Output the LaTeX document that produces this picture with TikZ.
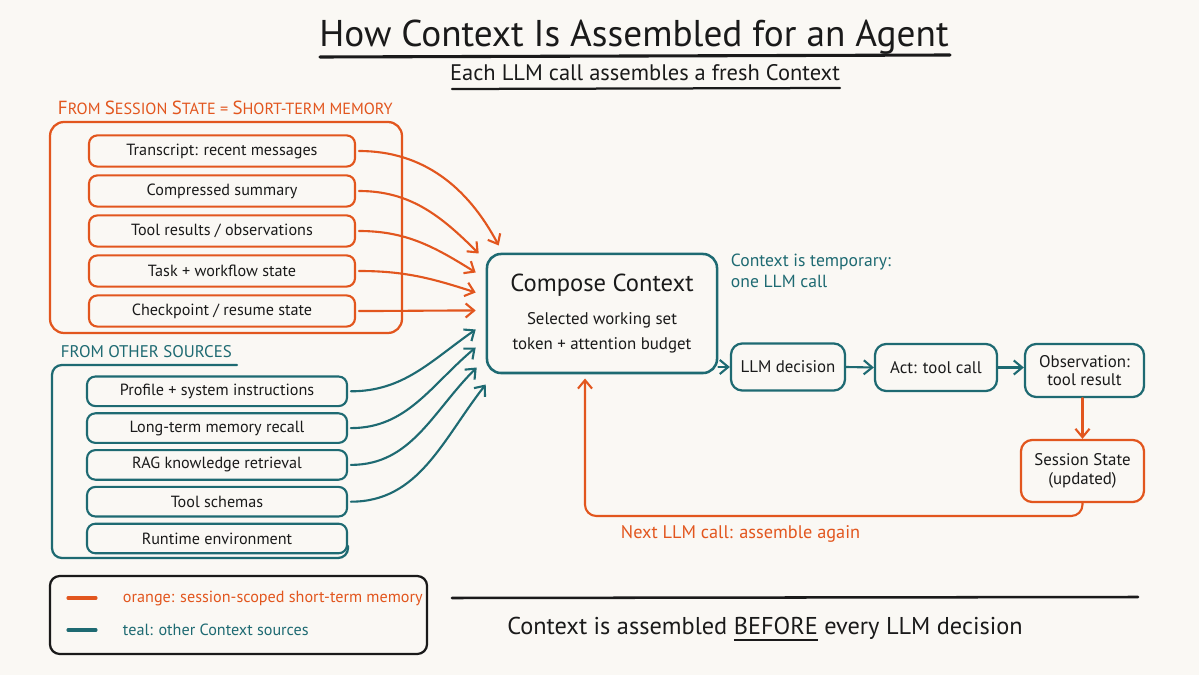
\documentclass[tikz,border=0pt]{standalone}
\usepackage{fontspec}
\setmainfont{PT Sans}
\usetikzlibrary{arrows.meta,calc,positioning}

\definecolor{paper}{HTML}{FAF8F4}
\definecolor{ctxorange}{HTML}{E2561E}
\definecolor{ctxteal}{HTML}{1E6A72}
\definecolor{ink}{HTML}{1A1A1A}

\newcommand{\fsz}[1]{\fontsize{#1}{1.2\dimexpr #1pt\relax}\selectfont}
\newcommand{\capinit}[1]{{\fsz{13.5}#1}}
\newcommand{\thickul}[1]{\setbox0\hbox{#1}\rlap{\raisebox{-4.5pt}{\rule{\wd0}{1.6pt}}}\box0{}}

\tikzset{
  srcbox/.style={draw, rounded corners=6pt, line width=1.5pt, text=ink,
    minimum height=0.78cm, font=\fsz{11.5}},
  sessbox/.style={srcbox, draw=ctxorange, minimum width=6.65cm},
  otherbox/.style={srcbox, draw=ctxteal, minimum width=6.5cm, minimum height=0.74cm},
  stepbox/.style={draw=ctxteal, rounded corners=8pt, line width=1.6pt, text=ink,
    align=center, font=\fsz{12}, minimum height=1.175cm},
  feed/.style={-{Straight Barb[length=6pt,width=10pt,line width=1.5pt]}, line width=1.5pt},
  legtext/.style={right=19pt of #1, inner sep=0pt, font=\fsz{11.5}},
}

\begin{document}
\begin{tikzpicture}[x=0.025cm, y=-0.025cm, line cap=round, line join=round]
  \fill[paper] (0,0) rectangle (1199,675);
  \useasboundingbox (0,0) rectangle (1199,675);

  % title
  \node[font=\fsz{26.5}, text=ink] (title) at (634,37) {How Context Is Assembled for an Agent};
  \draw[ink, line width=2.2pt] (320,57) -- (950,55);
  \node[font=\fsz{16}, text=ink] (subtitle) at (645,73) {Each LLM call assembles a fresh Context};
  \draw[ink, line width=1.6pt] (452,89) -- (840,88);

  % session state group
  \node[anchor=west, text=ctxorange, font=\fsz{11.5}] (sesshead) at (53,108)
    {\capinit{F}ROM \capinit{S}ESSION \capinit{S}TATE = \capinit{S}HORT-TERM MEMORY};
  \draw[ctxorange, line width=1.6pt, rounded corners=10pt] (50,122) rectangle (402,333);
  \foreach \i/\t in {1/{Transcript: recent messages}, 2/{Compressed summary},
      3/{Tool results / observations}, 4/{Task + workflow state}, 5/{Checkpoint / resume state}}
    \node[sessbox] (s\i) at (222,111+40*\i) {\t};

  % other sources group
  \node[anchor=west, text=ctxteal, font=\fsz{12}] (otherhead) at (56,352) {FROM OTHER SOURCES};
  \draw[ctxteal, line width=1.6pt, rounded corners=7pt]
    (237,365) -- (52,365) -- (52,558) -- (348,558) -- (348,546);
  \foreach \i/\t in {1/{Profile + system instructions}, 2/{Long-term memory recall},
      3/{RAG knowledge retrieval}, 4/{Tool schemas}, 5/{Runtime environment}}
    \node[otherbox] (o\i) at (217,354.5+36.8*\i) {\t};

  % compose
  \node[stepbox, minimum width=5.75cm, minimum height=2.975cm, line width=1.8pt,
    rounded corners=10pt] (compose) at (602,313.5)
    {{\fsz{17.5}Compose Context}\\[9pt] Selected working set\\[3pt] token + attention budget};
  \node[anchor=west, align=left, text=ctxteal, font=\fsz{12.5}] (tempnote) at (726,271)
    {Context is temporary:\\ one LLM call};

  % sources into compose
  \foreach \i/\dx/\dy/\a in {1/13/-68/118, 2/-7/-60/135, 3/-10/-41/148, 4/-10/-21/162, 5/-10/-3/180}
    \draw[ctxorange, feed, shorten <=2pt] (s\i.east) to[out=0, in=\a] ($(compose.west)+(\dx,\dy)$);
  \foreach \i/\dx/\dy/\a in {1/-10/16/215, 2/-10/34/220, 3/-9/54/225, 4/0/71/232}
    \draw[ctxteal, feed, shorten <=2pt] (o\i.east) to[out=0, in=\a] ($(compose.west)+(\dx,\dy)$);

  % agent loop
  \node[stepbox, minimum width=2.85cm] (llm) at (788,367) {LLM decision};
  \node[stepbox, minimum width=3.05cm] (act) at (936,367.5) {Act: tool call};
  \node[stepbox, minimum width=2.975cm, minimum height=1.325cm] (obs) at (1084.5,370.5)
    {Observation:\\[-2pt] tool result};
  \node[stepbox, draw=ctxorange, minimum width=3.075cm, minimum height=1.55cm] (session)
    at (1082.5,471) {Session State\\[-1pt] (updated)};

  \draw[ctxteal, feed] (compose.east |- llm) -- (llm.west);
  \draw[ctxteal, feed] (llm.east) -- (act.west);
  \draw[ctxteal, feed] (act.east) -- (obs.west |- act);
  \draw[ctxorange, feed] (obs.south -| session) -- (session.north);
  \coordinate (back) at (585,516);
  \draw[ctxorange, feed, rounded corners=8pt, shorten >=3pt]
    (session.south) |- (back) -- (back |- compose.south);
  \node[anchor=west, text=ctxorange, font=\fsz{13}] (againlbl) at (616,534)
    {Next LLM call: assemble again};

  % legend
  \node[draw=ink, line width=1.6pt, rounded corners=7pt, minimum width=9.425cm,
    minimum height=1.95cm] (legend) at (238.5,615) {};
  \coordinate (ko) at (96,598);
  \coordinate (kt) at (96,630);
  \draw[ctxorange, line width=2.2pt] (68,598) -- (ko);
  \node[legtext=ko, text=ctxorange] (legorange) {orange: session-scoped short-term memory};
  \draw[ctxteal, line width=2.2pt] (68,630) -- (kt);
  \node[legtext=kt, text=ctxteal] (legteal) {teal: other Context sources};

  % footer
  \draw[ink, line width=1.8pt] (452,598) -- (1138,597);
  \node[font=\fsz{17.3}, text=ink] (tagline) at (765,629)
    {Context is assembled \thickul{BEFORE} every LLM decision};
\end{tikzpicture}
\end{document}
